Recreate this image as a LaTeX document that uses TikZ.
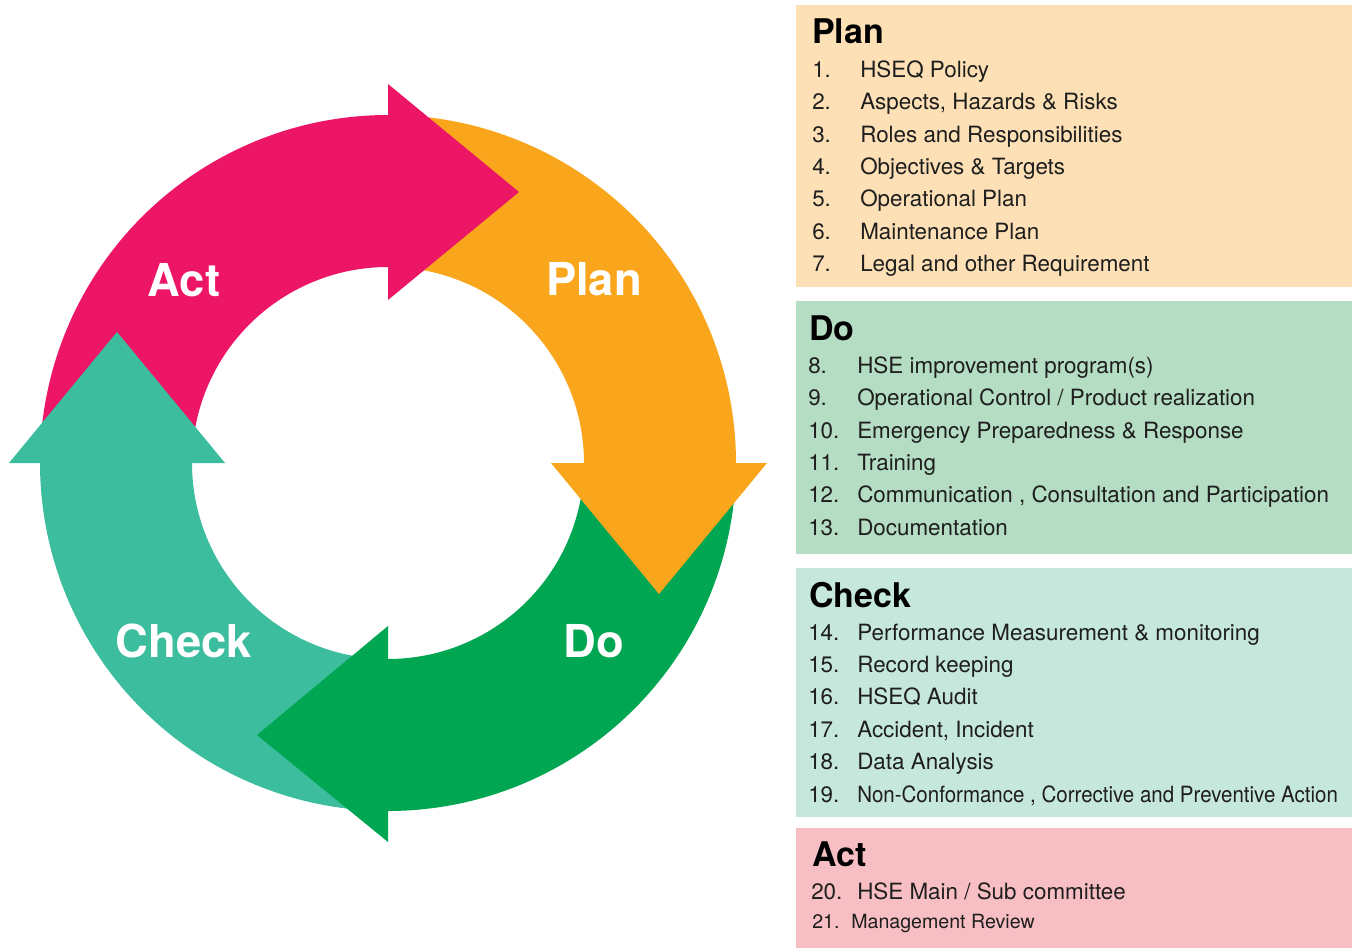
\documentclass[tikz,border=0pt]{standalone}
\usepackage{fontspec}
\setmainfont{TeX Gyre Heros}
\usepackage{graphicx}
\definecolor{cmag}{HTML}{ED1566}
\definecolor{corange}{HTML}{F9A61D}
\definecolor{cgreen}{HTML}{00A651}
\definecolor{cteal}{HTML}{3BBD9E}
\definecolor{pplan}{HTML}{FDE0B6}
\definecolor{pdo}{HTML}{B4DDC3}
\definecolor{pcheck}{HTML}{C6E7DB}
\definecolor{pact}{HTML}{F7BFC3}
\definecolor{ptext}{HTML}{1E1E1E}
\begin{document}
\begin{tikzpicture}[x=0.75pt,y=-0.75pt,
  ringlabel/.style={text=white,font=\fontsize{34}{37}\selectfont\bfseries,inner sep=0,anchor=base},
  ptitle/.style={text=black,font=\fontsize{25.5}{28}\selectfont\bfseries,inner sep=0,anchor=base west},
  pitem/.style={text=ptext,font=\fontsize{16.8}{19}\selectfont,inner sep=0,anchor=base west},
  psmall/.style={text=ptext,font=\fontsize{14.7}{17}\selectfont,inner sep=0,anchor=base west}]
\useasboundingbox (0,0) rectangle (1352,948);
\fill[white] (0,0) rectangle (1352,948);

% ---- cycle ring ----
\begin{scope}[shift={(388,463)}]
  % bodies
  \fill[cmag] (180:348) arc[start angle=180,end angle=271,radius=348] -- (271:196) arc[start angle=271,end angle=180,radius=196] -- cycle;
  \fill[corange] (270:348) arc[start angle=270,end angle=361,radius=348] -- (361:196) arc[start angle=361,end angle=270,radius=196] -- cycle;
  \fill[cgreen] (0:348) arc[start angle=0,end angle=91,radius=348] -- (91:196) arc[start angle=91,end angle=0,radius=196] -- cycle;
  \fill[cteal] (90:348) arc[start angle=90,end angle=181,radius=348] -- (181:196) arc[start angle=181,end angle=90,radius=196] -- cycle;
  % heads
  \fill[cmag] (0,-379) -- (131,-271) -- (0,-163) -- cycle;
  \fill[corange] (379,0) -- (271,131) -- (163,0) -- cycle;
  \fill[cgreen] (0,379) -- (-131,272) -- (0,163) -- cycle;
  \fill[cteal] (-379,0) -- (-271,-131) -- (-163,0) -- cycle;
\end{scope}

\node[ringlabel] (lact) at (184,297) {Act};
\node[ringlabel] (lplan) at (594,296) {Plan};
\node[ringlabel] (ldo) at (594,657) {Do};
\node[ringlabel] (lcheck) at (184,657) {Check};

% ---- panels ----
\fill[pplan] (796,5) rectangle (1352,287);
\fill[pdo] (796,301) rectangle (1352,554);
\fill[pcheck] (796,568) rectangle (1352,817);
\fill[pact] (796,828) rectangle (1352,948);

% Plan
\node[ptitle] (tplan) at (812,44) {Plan};
\node[pitem] (n1) at (812,77.3) {1.};  \node[pitem] (i1) at (860,77.3) {HSEQ Policy};
\node[pitem] (n2) at (812,109.7) {2.}; \node[pitem] (i2) at (860,109.7) {Aspects, Hazards \& Risks};
\node[pitem] (n3) at (812,142.1) {3.}; \node[pitem] (i3) at (860,142.1) {Roles and Responsibilities};
\node[pitem] (n4) at (812,174.5) {4.}; \node[pitem] (i4) at (860,174.5) {Objectives \& Targets};
\node[pitem] (n5) at (812,206.9) {5.}; \node[pitem] (i5) at (860,206.9) {Operational Plan};
\node[pitem] (n6) at (812,239.3) {6.}; \node[pitem] (i6) at (860,239.3) {Maintenance Plan};
\node[pitem] (n7) at (812,271.7) {7.}; \node[pitem] (i7) at (860,271.7) {Legal and other Requirement};

% Do
\node[ptitle] (tdo) at (809,340) {Do};
\node[pitem] (n8) at (808,373.5) {8.};   \node[pitem] (i8) at (857,373.5) {HSE improvement program(s)};
\node[pitem] (n9) at (808,405.8) {9.};   \node[pitem] (i9) at (857,405.8) {Operational Control / Product realization};
\node[pitem] (n10) at (808,438.1) {10.}; \node[pitem] (i10) at (857,438.1) {Emergency Preparedness \& Response};
\node[pitem] (n11) at (808,470.4) {11.}; \node[pitem] (i11) at (857,470.4) {Training};
\node[pitem] (n12) at (808,502.7) {12.}; \node[pitem] (i12) at (857,502.7) {Communication , Consultation and Participation};
\node[pitem] (n13) at (808,535) {13.};   \node[pitem] (i13) at (857,535) {Documentation};

% Check
\node[ptitle] (tcheck) at (809,607.5) {Check};
\node[pitem] (n14) at (808,640) {14.};   \node[pitem] (i14) at (857,640) {Performance Measurement \& monitoring};
\node[pitem] (n15) at (808,672.4) {15.}; \node[pitem] (i15) at (857,672.4) {Record keeping};
\node[pitem] (n16) at (808,704.8) {16.}; \node[pitem] (i16) at (857,704.8) {HSEQ Audit};
\node[pitem] (n17) at (808,737.2) {17.}; \node[pitem] (i17) at (857,737.2) {Accident, Incident};
\node[pitem] (n18) at (808,769.6) {18.}; \node[pitem] (i18) at (857,769.6) {Data Analysis};
\node[pitem] (n19) at (808,802) {19.};   \node[pitem] (i19) at (857,802) {\scalebox{0.915}[1]{Non-Conformance , Corrective and Preventive Action}};

% Act
\node[ptitle] (tact) at (812,866) {Act};
\node[pitem] (n20) at (811,899) {20.};   \node[pitem] (i20) at (857,899) {HSE Main / Sub committee};
\node[psmall] (n21) at (812,928) {21.};  \node[psmall] (i21) at (851,928) {Management Review};
\end{tikzpicture}
\end{document}
